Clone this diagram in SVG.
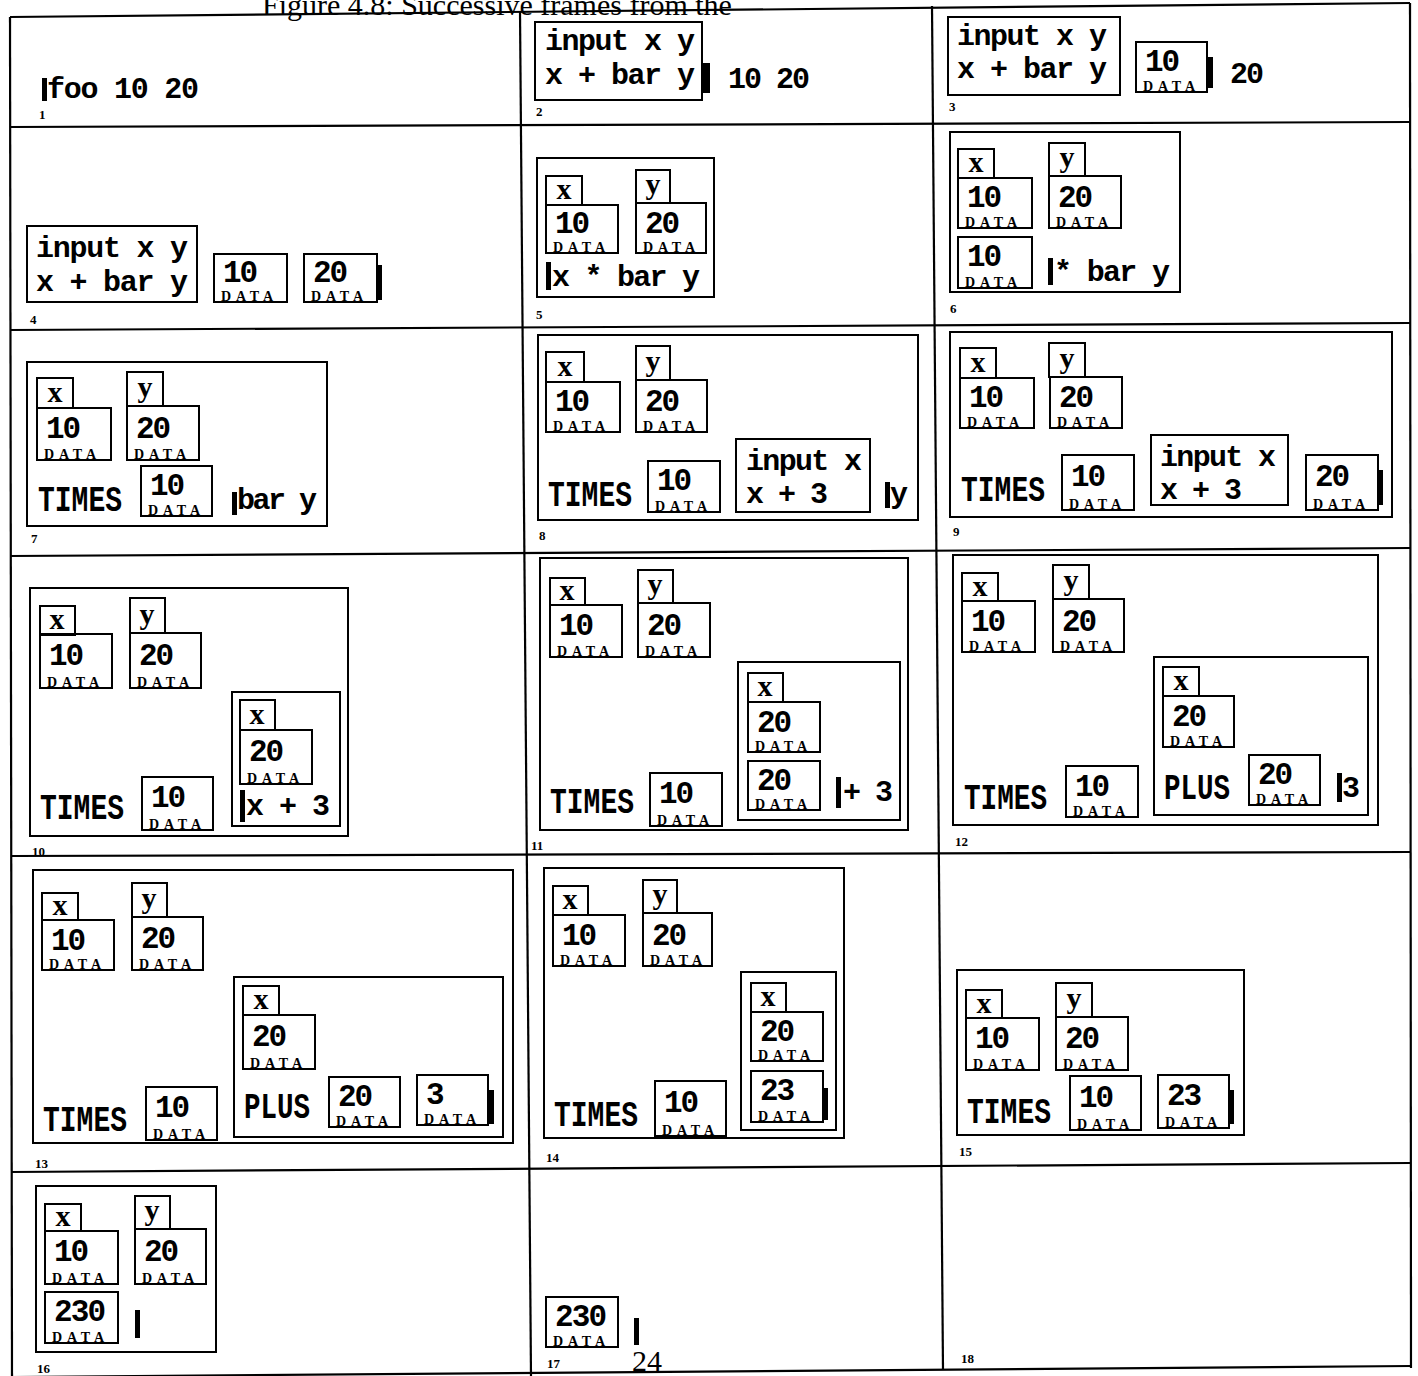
<svg xmlns="http://www.w3.org/2000/svg" width="1418" height="1376" viewBox="0 0 1418 1376">
<style>
.b{fill:none;stroke:#000;stroke-width:2}
.g{fill:none;stroke:#000;stroke-width:2.2}
.t{font-family:"Liberation Mono",monospace;font-size:30px;font-weight:bold;fill:#000}
.s{font-family:"Liberation Serif",serif;font-size:30px;font-weight:bold;fill:#000;text-anchor:middle}
.v{font-family:"Liberation Mono",monospace;font-size:31px;font-weight:bold;fill:#000}
.k{font-family:"Liberation Mono",monospace;font-size:36px;font-weight:bold;fill:#000}
.d{font-family:"Liberation Serif",serif;font-size:14px;font-weight:bold;fill:#000}
.n{font-family:"Liberation Serif",serif;font-size:13px;font-weight:bold;fill:#000}
.c{fill:#000}
.cap{font-family:"Liberation Serif",serif;font-size:30px;fill:#000}
</style>
<rect x="0" y="0" width="1418" height="1376" fill="#fff"/>
<text class="cap" x="262" y="15">Figure 4.8: Successive frames from the</text>
<g id="grid">
<line class="g" x1="10" y1="17" x2="1410" y2="3"/>
<line class="g" x1="10" y1="17" x2="12" y2="1376"/>
<line class="g" x1="1410" y1="3" x2="1411" y2="1368"/>
<line class="g" x1="10" y1="127" x2="1410" y2="122"/>
<line class="g" x1="10" y1="330" x2="1410" y2="323"/>
<line class="g" x1="10" y1="556" x2="1410" y2="548"/>
<line class="g" x1="11" y1="856" x2="1410" y2="852"/>
<line class="g" x1="11" y1="1172" x2="1410" y2="1163"/>
<line class="g" x1="12" y1="1377" x2="1411" y2="1366"/>
<line class="g" x1="520" y1="11" x2="531" y2="1376"/>
<line class="g" x1="932" y1="6" x2="943" y2="1370"/>
</g>
<g id="connectors"/>
<g id="frame1">
<rect class="c" x="42" y="78" width="5" height="23"/>
<text class="t" x="47" y="98" textLength="152">foo 10 20</text>
<text class="n" x="39" y="119">1</text>
</g>
<g id="frame2">
<rect class="b" x="535" y="22" width="167" height="78"/>
<text class="t" x="545" y="50" textLength="150">input x y</text>
<text class="t" x="545" y="84" textLength="150">x + bar y</text>
<rect class="c" x="703" y="63" width="7" height="30"/>
<text class="t" x="728" y="88" textLength="82">10 20</text>
<text class="n" x="536" y="116">2</text>
</g>
<g id="frame3">
<rect class="b" x="948" y="17" width="172" height="78"/>
<text class="t" x="957" y="45" textLength="150">input x y</text>
<text class="t" x="957" y="78" textLength="150">x + bar y</text>
<rect class="b" x="1136" y="42" width="71" height="50"/>
<text class="v" x="1145" y="71" textLength="35">10</text>
<text class="d" x="1143" y="91" textLength="52">DATA</text>
<rect class="c" x="1207" y="57" width="6" height="31"/>
<text class="t" x="1230" y="83" textLength="34">20</text>
<text class="n" x="949" y="111">3</text>
</g>
<g id="frame4">
<rect class="b" x="27" y="226" width="170" height="76"/>
<text class="t" x="36" y="257" textLength="152">input x y</text>
<text class="t" x="36" y="291" textLength="152">x + bar y</text>
<rect class="b" x="214" y="254" width="73" height="48"/>
<text class="v" x="223" y="282" textLength="35">10</text>
<text class="d" x="221" y="301" textLength="52">DATA</text>
<rect class="b" x="304" y="254" width="73" height="48"/>
<text class="v" x="313" y="282" textLength="35">20</text>
<text class="d" x="311" y="301" textLength="52">DATA</text>
<rect class="c" x="376" y="265" width="6" height="35"/>
<text class="n" x="30" y="324">4</text>
</g>
<g id="frame5">
<rect class="b" x="537" y="158" width="177" height="139"/>
<rect class="b" x="546" y="176" width="36" height="29"/>
<text class="s" x="564" y="199">x</text>
<rect class="b" x="636" y="170" width="34" height="33"/>
<text class="s" x="653" y="194">y</text>
<rect class="b" x="546" y="205" width="72" height="48"/>
<text class="v" x="555" y="233" textLength="35">10</text>
<text class="d" x="553" y="252" textLength="52">DATA</text>
<rect class="b" x="636" y="203" width="70" height="50"/>
<text class="v" x="645" y="233" textLength="35">20</text>
<text class="d" x="643" y="252" textLength="52">DATA</text>
<rect class="c" x="546" y="262" width="5" height="28"/>
<text class="t" x="552" y="286" textLength="148">x * bar y</text>
<text class="n" x="536" y="319">5</text>
</g>
<g id="frame6">
<rect class="b" x="950" y="132" width="230" height="160"/>
<rect class="b" x="958" y="149" width="36" height="29"/>
<text class="s" x="976" y="172">x</text>
<rect class="b" x="1049" y="143" width="36" height="33"/>
<text class="s" x="1067" y="167">y</text>
<rect class="b" x="958" y="178" width="74" height="50"/>
<text class="v" x="967" y="207" textLength="35">10</text>
<text class="d" x="965" y="227" textLength="52">DATA</text>
<rect class="b" x="1049" y="176" width="72" height="52"/>
<text class="v" x="1058" y="207" textLength="35">20</text>
<text class="d" x="1056" y="227" textLength="52">DATA</text>
<rect class="b" x="958" y="237" width="74" height="51"/>
<text class="v" x="967" y="266" textLength="35">10</text>
<text class="d" x="965" y="287" textLength="52">DATA</text>
<rect class="c" x="1048" y="258" width="5" height="27"/>
<text class="t" x="1054" y="281" textLength="116">* bar y</text>
<text class="n" x="950" y="313">6</text>
</g>
<g id="frame7">
<rect class="b" x="27" y="362" width="300" height="164"/>
<rect class="b" x="37" y="378" width="36" height="30"/>
<text class="s" x="55" y="402">x</text>
<rect class="b" x="127" y="372" width="36" height="34"/>
<text class="s" x="145" y="397">y</text>
<rect class="b" x="37" y="408" width="74" height="52"/>
<text class="v" x="46" y="438" textLength="35">10</text>
<text class="d" x="44" y="459" textLength="52">DATA</text>
<rect class="b" x="127" y="406" width="72" height="54"/>
<text class="v" x="136" y="438" textLength="35">20</text>
<text class="d" x="134" y="459" textLength="52">DATA</text>
<text class="k" x="38" y="511" textLength="84" lengthAdjust="spacingAndGlyphs">TIMES</text>
<rect class="b" x="141" y="466" width="71" height="50"/>
<text class="v" x="150" y="495" textLength="35">10</text>
<text class="d" x="148" y="515" textLength="52">DATA</text>
<rect class="c" x="232" y="492" width="5" height="23"/>
<text class="t" x="237" y="509" textLength="80">bar y</text>
<text class="n" x="31" y="543">7</text>
</g>
<g id="frame8">
<rect class="b" x="538" y="335" width="380" height="185"/>
<rect class="b" x="546" y="352" width="38" height="30"/>
<text class="s" x="565" y="376">x</text>
<rect class="b" x="636" y="346" width="34" height="34"/>
<text class="s" x="653" y="371">y</text>
<rect class="b" x="546" y="382" width="74" height="50"/>
<text class="v" x="555" y="411" textLength="35">10</text>
<text class="d" x="553" y="431" textLength="52">DATA</text>
<rect class="b" x="636" y="380" width="71" height="52"/>
<text class="v" x="645" y="411" textLength="35">20</text>
<text class="d" x="643" y="431" textLength="52">DATA</text>
<text class="k" x="548" y="506" textLength="84" lengthAdjust="spacingAndGlyphs">TIMES</text>
<rect class="b" x="648" y="461" width="72" height="51"/>
<text class="v" x="657" y="490" textLength="35">10</text>
<text class="d" x="655" y="511" textLength="52">DATA</text>
<rect class="b" x="736" y="439" width="134" height="73"/>
<text class="t" x="746" y="470" textLength="116">input x</text>
<text class="t" x="746" y="503" textLength="82">x + 3</text>
<rect class="c" x="885" y="482" width="5" height="26"/>
<text class="t" x="890" y="503">y</text>
<text class="n" x="539" y="540">8</text>
</g>
<g id="frame9">
<rect class="b" x="950" y="332" width="442" height="185"/>
<rect class="b" x="960" y="348" width="36" height="30"/>
<text class="s" x="978" y="372">x</text>
<rect class="b" x="1049" y="343" width="36" height="34"/>
<text class="s" x="1067" y="368">y</text>
<rect class="b" x="960" y="378" width="74" height="50"/>
<text class="v" x="969" y="407" textLength="35">10</text>
<text class="d" x="967" y="427" textLength="52">DATA</text>
<rect class="b" x="1050" y="377" width="72" height="51"/>
<text class="v" x="1059" y="407" textLength="35">20</text>
<text class="d" x="1057" y="427" textLength="52">DATA</text>
<text class="k" x="961" y="501" textLength="84" lengthAdjust="spacingAndGlyphs">TIMES</text>
<rect class="b" x="1062" y="455" width="72" height="55"/>
<text class="v" x="1071" y="486" textLength="35">10</text>
<text class="d" x="1069" y="509" textLength="52">DATA</text>
<rect class="b" x="1151" y="435" width="137" height="70"/>
<text class="t" x="1160" y="466" textLength="116">input x</text>
<text class="t" x="1160" y="499" textLength="82">x + 3</text>
<rect class="b" x="1306" y="455" width="72" height="55"/>
<text class="v" x="1315" y="486" textLength="35">20</text>
<text class="d" x="1313" y="509" textLength="52">DATA</text>
<rect class="c" x="1377" y="470" width="6" height="35"/>
<text class="n" x="953" y="536">9</text>
</g>
<g id="frame10">
<rect class="b" x="30" y="588" width="318" height="248"/>
<rect class="b" x="40" y="606" width="35" height="29"/>
<text class="s" x="57" y="629">x</text>
<rect class="b" x="130" y="598" width="35" height="35"/>
<text class="s" x="147" y="624">y</text>
<rect class="b" x="40" y="634" width="72" height="54"/>
<text class="v" x="49" y="665" textLength="35">10</text>
<text class="d" x="47" y="687" textLength="52">DATA</text>
<rect class="b" x="130" y="633" width="71" height="55"/>
<text class="v" x="139" y="665" textLength="35">20</text>
<text class="d" x="137" y="687" textLength="52">DATA</text>
<rect class="b" x="232" y="692" width="108" height="134"/>
<rect class="b" x="240" y="700" width="35" height="30"/>
<text class="s" x="257" y="724">x</text>
<rect class="b" x="240" y="730" width="72" height="54"/>
<text class="v" x="249" y="761" textLength="35">20</text>
<text class="d" x="247" y="783" textLength="52">DATA</text>
<rect class="c" x="240" y="790" width="5" height="32"/>
<text class="t" x="246" y="815" textLength="84">x + 3</text>
<text class="k" x="40" y="819" textLength="84" lengthAdjust="spacingAndGlyphs">TIMES</text>
<rect class="b" x="142" y="777" width="71" height="53"/>
<text class="v" x="151" y="807" textLength="35">10</text>
<text class="d" x="149" y="829" textLength="52">DATA</text>
<text class="n" x="32" y="856">10</text>
</g>
<g id="frame11">
<rect class="b" x="540" y="558" width="368" height="272"/>
<rect class="b" x="550" y="578" width="35" height="27"/>
<text class="s" x="567" y="600">x</text>
<rect class="b" x="638" y="570" width="35" height="33"/>
<text class="s" x="655" y="594">y</text>
<rect class="b" x="550" y="605" width="72" height="52"/>
<text class="v" x="559" y="635" textLength="35">10</text>
<text class="d" x="557" y="656" textLength="52">DATA</text>
<rect class="b" x="638" y="603" width="72" height="54"/>
<text class="v" x="647" y="635" textLength="35">20</text>
<text class="d" x="645" y="656" textLength="52">DATA</text>
<rect class="b" x="738" y="662" width="162" height="158"/>
<rect class="b" x="748" y="673" width="35" height="29"/>
<text class="s" x="765" y="696">x</text>
<rect class="b" x="748" y="702" width="72" height="50"/>
<text class="v" x="757" y="732" textLength="35">20</text>
<text class="d" x="755" y="751" textLength="52">DATA</text>
<rect class="b" x="748" y="761" width="72" height="49"/>
<text class="v" x="757" y="790" textLength="35">20</text>
<text class="d" x="755" y="809" textLength="52">DATA</text>
<rect class="c" x="836" y="777" width="5" height="31"/>
<text class="t" x="843" y="801" textLength="50">+ 3</text>
<text class="k" x="550" y="813" textLength="84" lengthAdjust="spacingAndGlyphs">TIMES</text>
<rect class="b" x="650" y="773" width="72" height="53"/>
<text class="v" x="659" y="803" textLength="35">10</text>
<text class="d" x="657" y="825" textLength="52">DATA</text>
<text class="n" x="531" y="850">11</text>
</g>
<g id="frame12">
<rect class="b" x="953" y="555" width="425" height="270"/>
<rect class="b" x="962" y="573" width="36" height="28"/>
<text class="s" x="980" y="596">x</text>
<rect class="b" x="1053" y="565" width="36" height="34"/>
<text class="s" x="1071" y="590">y</text>
<rect class="b" x="962" y="601" width="73" height="51"/>
<text class="v" x="971" y="631" textLength="35">10</text>
<text class="d" x="969" y="651" textLength="52">DATA</text>
<rect class="b" x="1053" y="599" width="71" height="53"/>
<text class="v" x="1062" y="631" textLength="35">20</text>
<text class="d" x="1060" y="651" textLength="52">DATA</text>
<rect class="b" x="1154" y="657" width="214" height="158"/>
<rect class="b" x="1163" y="667" width="36" height="29"/>
<text class="s" x="1181" y="690">x</text>
<rect class="b" x="1163" y="696" width="71" height="51"/>
<text class="v" x="1172" y="726" textLength="35">20</text>
<text class="d" x="1170" y="746" textLength="52">DATA</text>
<text class="k" x="1164" y="799" textLength="66" lengthAdjust="spacingAndGlyphs">PLUS</text>
<rect class="b" x="1249" y="755" width="71" height="50"/>
<text class="v" x="1258" y="784" textLength="35">20</text>
<text class="d" x="1256" y="804" textLength="52">DATA</text>
<rect class="c" x="1337" y="773" width="5" height="29"/>
<text class="t" x="1342" y="797">3</text>
<text class="k" x="964" y="809" textLength="83" lengthAdjust="spacingAndGlyphs">TIMES</text>
<rect class="b" x="1066" y="766" width="72" height="51"/>
<text class="v" x="1075" y="796" textLength="35">10</text>
<text class="d" x="1073" y="816" textLength="52">DATA</text>
<text class="n" x="955" y="846">12</text>
</g>
<g id="frame13">
<rect class="b" x="33" y="870" width="480" height="273"/>
<rect class="b" x="42" y="893" width="36" height="27"/>
<text class="s" x="60" y="915">x</text>
<rect class="b" x="132" y="883" width="35" height="34"/>
<text class="s" x="149" y="908">y</text>
<rect class="b" x="42" y="920" width="72" height="50"/>
<text class="v" x="51" y="950" textLength="35">10</text>
<text class="d" x="49" y="969" textLength="52">DATA</text>
<rect class="b" x="132" y="917" width="71" height="53"/>
<text class="v" x="141" y="948" textLength="35">20</text>
<text class="d" x="139" y="969" textLength="52">DATA</text>
<rect class="b" x="234" y="977" width="269" height="160"/>
<rect class="b" x="243" y="986" width="36" height="29"/>
<text class="s" x="261" y="1009">x</text>
<rect class="b" x="243" y="1015" width="72" height="54"/>
<text class="v" x="252" y="1046" textLength="35">20</text>
<text class="d" x="250" y="1068" textLength="52">DATA</text>
<text class="k" x="244" y="1118" textLength="66" lengthAdjust="spacingAndGlyphs">PLUS</text>
<rect class="b" x="329" y="1077" width="71" height="50"/>
<text class="v" x="338" y="1106" textLength="35">20</text>
<text class="d" x="336" y="1126" textLength="52">DATA</text>
<rect class="b" x="417" y="1075" width="71" height="50"/>
<text class="v" x="426" y="1104" textLength="18">3</text>
<text class="d" x="424" y="1124" textLength="52">DATA</text>
<rect class="c" x="488" y="1090" width="6" height="34"/>
<text class="k" x="43" y="1131" textLength="84" lengthAdjust="spacingAndGlyphs">TIMES</text>
<rect class="b" x="146" y="1087" width="71" height="53"/>
<text class="v" x="155" y="1117" textLength="35">10</text>
<text class="d" x="153" y="1139" textLength="52">DATA</text>
<text class="n" x="35" y="1168">13</text>
</g>
<g id="frame14">
<rect class="b" x="544" y="868" width="300" height="270"/>
<rect class="b" x="553" y="886" width="35" height="29"/>
<text class="s" x="570" y="909">x</text>
<rect class="b" x="643" y="880" width="34" height="33"/>
<text class="s" x="660" y="904">y</text>
<rect class="b" x="553" y="915" width="72" height="51"/>
<text class="v" x="562" y="945" textLength="35">10</text>
<text class="d" x="560" y="965" textLength="52">DATA</text>
<rect class="b" x="643" y="913" width="69" height="53"/>
<text class="v" x="652" y="945" textLength="35">20</text>
<text class="d" x="650" y="965" textLength="52">DATA</text>
<rect class="b" x="741" y="972" width="95" height="158"/>
<rect class="b" x="751" y="983" width="35" height="29"/>
<text class="s" x="768" y="1006">x</text>
<rect class="b" x="751" y="1012" width="72" height="49"/>
<text class="v" x="760" y="1041" textLength="35">20</text>
<text class="d" x="758" y="1060" textLength="52">DATA</text>
<rect class="b" x="751" y="1071" width="72" height="51"/>
<text class="v" x="760" y="1100" textLength="35">23</text>
<text class="d" x="758" y="1121" textLength="52">DATA</text>
<rect class="c" x="823" y="1088" width="5" height="32"/>
<text class="k" x="554" y="1126" textLength="84" lengthAdjust="spacingAndGlyphs">TIMES</text>
<rect class="b" x="655" y="1081" width="71" height="55"/>
<text class="v" x="664" y="1112" textLength="35">10</text>
<text class="d" x="662" y="1135" textLength="52">DATA</text>
<text class="n" x="546" y="1162">14</text>
</g>
<g id="frame15">
<rect class="b" x="957" y="970" width="287" height="165"/>
<rect class="b" x="966" y="990" width="36" height="28"/>
<text class="s" x="984" y="1013">x</text>
<rect class="b" x="1056" y="983" width="36" height="34"/>
<text class="s" x="1074" y="1008">y</text>
<rect class="b" x="966" y="1018" width="73" height="52"/>
<text class="v" x="975" y="1048" textLength="35">10</text>
<text class="d" x="973" y="1069" textLength="52">DATA</text>
<rect class="b" x="1056" y="1017" width="72" height="53"/>
<text class="v" x="1065" y="1048" textLength="35">20</text>
<text class="d" x="1063" y="1069" textLength="52">DATA</text>
<text class="k" x="967" y="1123" textLength="84" lengthAdjust="spacingAndGlyphs">TIMES</text>
<rect class="b" x="1070" y="1076" width="71" height="54"/>
<text class="v" x="1079" y="1107" textLength="35">10</text>
<text class="d" x="1077" y="1129" textLength="52">DATA</text>
<rect class="b" x="1158" y="1075" width="71" height="53"/>
<text class="v" x="1167" y="1105" textLength="35">23</text>
<text class="d" x="1165" y="1127" textLength="52">DATA</text>
<rect class="c" x="1229" y="1090" width="5" height="34"/>
<text class="n" x="959" y="1156">15</text>
</g>
<g id="frame16">
<rect class="b" x="36" y="1186" width="180" height="166"/>
<rect class="b" x="45" y="1204" width="36" height="27"/>
<text class="s" x="63" y="1226">x</text>
<rect class="b" x="135" y="1196" width="35" height="33"/>
<text class="s" x="152" y="1220">y</text>
<rect class="b" x="45" y="1231" width="73" height="53"/>
<text class="v" x="54" y="1261" textLength="35">10</text>
<text class="d" x="52" y="1283" textLength="52">DATA</text>
<rect class="b" x="135" y="1229" width="71" height="55"/>
<text class="v" x="144" y="1261" textLength="35">20</text>
<text class="d" x="142" y="1283" textLength="52">DATA</text>
<rect class="b" x="45" y="1292" width="73" height="51"/>
<text class="v" x="54" y="1321" textLength="52">230</text>
<text class="d" x="52" y="1342" textLength="52">DATA</text>
<rect class="c" x="135" y="1310" width="5" height="28"/>
<text class="n" x="37" y="1373">16</text>
</g>
<g id="frame17">
<rect class="b" x="546" y="1297" width="72" height="50"/>
<text class="v" x="555" y="1326" textLength="52">230</text>
<text class="d" x="553" y="1346" textLength="52">DATA</text>
<rect class="c" x="634" y="1318" width="5" height="27"/>
<text class="n" x="547" y="1368">17</text>
</g>
<g id="frame18">
<text class="n" x="961" y="1363">18</text>
</g>
<text class="cap" x="632" y="1371">24</text>
</svg>
